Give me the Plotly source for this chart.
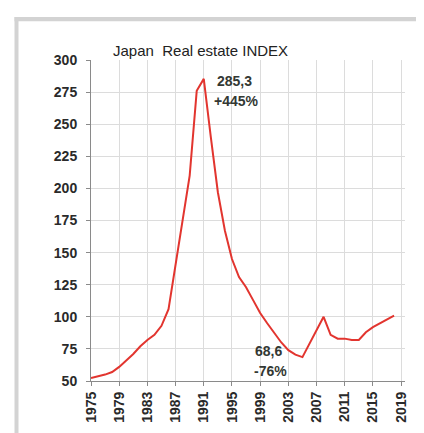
import plotly.graph_objects as go

years = list(range(1975, 2019))
index_values = [52.4, 53.5, 55, 57, 61, 66, 71, 77, 82, 86,
                93, 106, 140, 175, 210, 276, 285.3, 240, 197, 167,
                145, 131, 123, 113, 103, 95, 87, 80, 74, 70.5,
                68.6, 79, 90, 100, 86, 83, 83, 82, 82, 88,
                92, 95, 98, 101]
tick_years = list(range(1975, 2020, 4))
y_ticks = list(range(50, 301, 25))
title_text = "Japan  Real estate INDEX"

W, H = 424, 433
L, R, T, B = 83, 27, 52, 60
pw, ph = W - L - R, H - T - B

def px_x(p):
    return (p - L) / pw

def px_y(p):
    return (H - B - p) / ph

fig = go.Figure()
fig.add_trace(go.Scatter(x=years, y=index_values, mode="lines",
                         line=dict(color="#e2352f", width=2), hoverinfo="skip"))

ann_font = dict(family="Liberation Sans", size=14, color="#333833", weight="bold")
annotations = [
    dict(x=1992.6, y=283.5, text="285,3", xanchor="left", yanchor="middle", showarrow=False, font=ann_font),
    dict(x=1992.1, y=268, text="+445%", xanchor="left", yanchor="middle", showarrow=False, font=ann_font),
    dict(x=1998.0, y=73.6, text="68,6", xanchor="left", yanchor="middle", showarrow=False, font=ann_font),
    dict(x=1997.9, y=57.8, text="-76%", xanchor="left", yanchor="middle", showarrow=False, font=ann_font),
    dict(x=1974.9, y=61, text="52,4", xanchor="left", yanchor="middle", showarrow=False,
         font=dict(family="Liberation Sans", size=14, color="#333333")),
    dict(xref="paper", yref="paper", x=px_x(103), y=px_y(42), text=title_text,
         xanchor="left", yanchor="middle", showarrow=False,
         font=dict(family="Liberation Sans", size=15, color="#222222")),
]

frame = "#d3d3d3"
shapes = [
    dict(type="rect", xref="paper", yref="paper", x0=px_x(6.5), x1=px_x(10.5),
         y0=px_y(9), y1=px_y(440), fillcolor=frame, line=dict(width=0), layer="below"),
    dict(type="rect", xref="paper", yref="paper", x0=px_x(6.5), x1=px_x(430),
         y0=px_y(9), y1=px_y(13.3), fillcolor=frame, line=dict(width=0), layer="below"),
]

tick_font = dict(family="Liberation Sans", size=14, color="#2a2a2a", weight="bold")

fig.update_layout(
    width=W, height=H,
    margin=dict(l=L, r=R, t=T, b=B, pad=0),
    paper_bgcolor="white", plot_bgcolor="white",
    showlegend=False,
    annotations=annotations,
    shapes=shapes,
    xaxis=dict(range=[1975, 2019.55], tickmode="array", tickvals=tick_years,
               ticktext=[str(y) for y in tick_years], tickangle=-90,
               showgrid=True, gridcolor="#dcdcdc", gridwidth=1,
               showline=True, linecolor="#8a8a8a", linewidth=1,
               ticks="outside", ticklen=4, tickcolor="#8a8a8a",
               tickfont=tick_font, zeroline=False, fixedrange=True),
    yaxis=dict(range=[50, 300], tickmode="array", tickvals=y_ticks,
               showgrid=True, gridcolor="#dcdcdc", gridwidth=1,
               showline=True, linecolor="#8a8a8a", linewidth=1,
               ticks="outside", ticklen=4, tickcolor="#8a8a8a",
               ticklabelstandoff=6,
               tickfont=tick_font, zeroline=False, fixedrange=True),
)

fig.write_html("out.html")
